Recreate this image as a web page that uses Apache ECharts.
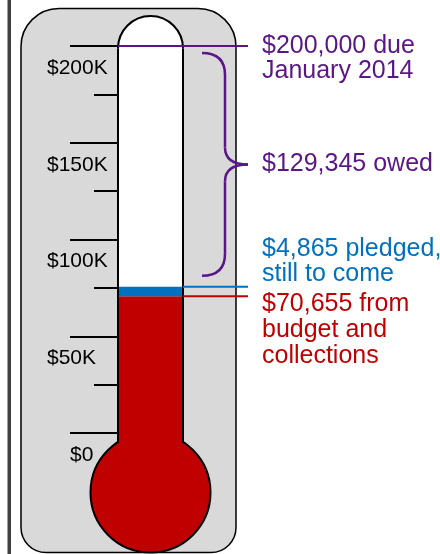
<!DOCTYPE html>
<html><head><meta charset="utf-8">
<script src="https://cdn.jsdelivr.net/npm/echarts@6/dist/echarts.min.js"></script>
<style>html,body{margin:0;padding:0;background:#fff}#c{width:440px;height:554px}</style>
</head><body><div id="c"></div>
<script>
// ---- data ----
const categories = ['Fund'];
const budgetCollected = [70655];
const pledgedToCome = [4865];
const goalAmount = [200000];
const owedAmount = [129345];
const goalLabel = ['$200,000 due', 'January 2014'];
const owedLabel = ['$129,345 owed'];
const pledgedLabel = ['$4,865 pledged,', 'still to come'];
const budgetLabel = ['$70,655 from', 'budget and', 'collections'];

// ---- style ----
const RED = '#c00000', BLUE = '#0070c0', PURPLE = '#5a1686', GRAY = '#d9d9d9';
const FONT = '"Liberation Sans", Arial, sans-serif';
const TUBE_L = 118, TUBE_W = 65, TUBE_R = TUBE_L + TUBE_W;

const chart = echarts.init(document.getElementById('c'), null, {renderer: 'canvas'});
chart.setOption({
  animation: false,
  grid: {left: TUBE_L, right: 440 - TUBE_R, top: 46, bottom: 121},
  xAxis: {type: 'category', data: categories, show: false},
  yAxis: {
    type: 'value', min: 0, max: goalAmount[0], interval: 50000,
    axisLine: {show: false},
    splitLine: {show: false}, minorSplitLine: {show: false},
    axisTick: {show: true, length: 48, lineStyle: {color: '#000', width: 2}},
    minorTick: {show: true, splitNumber: 2, length: 24, lineStyle: {color: '#000', width: 2}},
    axisLabel: {
      showMinLabel: true, showMaxLabel: true,
      align: 'left', margin: 71, padding: [44, 0, 0, 0],
      fontFamily: FONT, fontSize: 21, color: '#000',
      formatter: v => v === 0 ? '{z|$0}' : '$' + (v / 1000) + 'K',
      rich: {z: {padding: [0, 0, 0, 23], fontFamily: FONT, fontSize: 21, color: '#000'}}
    }
  },
  series: [
    {type: 'bar', stack: 'fund', data: budgetCollected, barWidth: '100%', itemStyle: {color: RED}, z: 2},
    {type: 'bar', stack: 'fund', data: pledgedToCome, barWidth: '100%', itemStyle: {color: BLUE}, z: 2}
  ]
});

const yOf = v => chart.convertToPixel({yAxisIndex: 0}, v);
const yGoal = yOf(goalAmount[0]);
const yBlue = yOf(budgetCollected[0] + pledgedToCome[0]);
const yRed = yOf(budgetCollected[0]);
const yZero = yOf(0);

const cx = TUBE_L + TUBE_W / 2;
const tubeR = TUBE_W / 2;
const arcCy = 48.5;
const bulbCy = 492.5, bulbR = 60;
const joinY = bulbCy - Math.sqrt(bulbR * bulbR - tubeR * tubeR);

const braceTop = yGoal + 7, braceBot = yBlue - 11, braceMid = (braceTop + braceBot) / 2;
const bx0 = 202, bx1 = 225, bxP = 248;
const lineEnd = 248, textX = 262;
const braceStyle = {stroke: PURPLE, lineWidth: 2.5, fill: null};

const els = [
  {type: 'rect', z: -10, shape: {x: 7.5, y: 0, width: 3.5, height: 554}, style: {fill: '#3f3f3f'}},
  {type: 'rect', z: -9, shape: {x: 21, y: 8.5, width: 215, height: 544, r: [38, 38, 25, 25]},
   style: {fill: GRAY, stroke: '#000', lineWidth: 1.5}},
  // tube white interior
  {type: 'rect', z: -8, shape: {x: TUBE_L, y: arcCy, width: TUBE_W, height: joinY - arcCy}, style: {fill: '#fff'}},
  {type: 'circle', z: -8, shape: {cx: cx, cy: arcCy, r: tubeR}, style: {fill: '#fff'}},
  // bulb
  {type: 'circle', z: 5, shape: {cx: cx, cy: bulbCy, r: bulbR}, style: {fill: RED, stroke: '#000', lineWidth: 2}},
  {type: 'rect', z: 6, shape: {x: TUBE_L, y: yZero - 4, width: TUBE_W, height: joinY - yZero + 16}, style: {fill: RED}},
  // tube outline
  {type: 'line', z: 7, shape: {x1: TUBE_L, y1: joinY + 1, x2: TUBE_L, y2: arcCy}, style: {stroke: '#000', lineWidth: 2}},
  {type: 'line', z: 7, shape: {x1: TUBE_R, y1: joinY + 1, x2: TUBE_R, y2: arcCy}, style: {stroke: '#000', lineWidth: 2}},
  {type: 'arc', z: 7, shape: {cx: cx, cy: arcCy, r: tubeR, startAngle: Math.PI, endAngle: 2 * Math.PI, clockwise: true},
   style: {stroke: '#000', lineWidth: 2, fill: null}},
  // annotation lines
  {type: 'line', z: 8, shape: {x1: TUBE_L, y1: yGoal, x2: lineEnd, y2: yGoal}, style: {stroke: PURPLE, lineWidth: 2}},
  {type: 'line', z: 8, shape: {x1: TUBE_R, y1: yBlue, x2: lineEnd, y2: yBlue}, style: {stroke: BLUE, lineWidth: 2}},
  {type: 'line', z: 8, shape: {x1: TUBE_R, y1: yRed, x2: lineEnd, y2: yRed}, style: {stroke: RED, lineWidth: 2}},
  // brace
  {type: 'bezierCurve', z: 8, shape: {x1: bx0, y1: braceTop, cpx1: bx1, cpy1: braceTop, x2: bx1, y2: braceTop + 22}, style: braceStyle},
  {type: 'line', z: 8, shape: {x1: bx1, y1: braceTop + 22, x2: bx1, y2: braceMid - 17}, style: braceStyle},
  {type: 'bezierCurve', z: 8, shape: {x1: bx1, y1: braceMid - 17, cpx1: bx1, cpy1: braceMid, x2: bxP, y2: braceMid}, style: braceStyle},
  {type: 'bezierCurve', z: 8, shape: {x1: bxP, y1: braceMid, cpx1: bx1, cpy1: braceMid, x2: bx1, y2: braceMid + 17}, style: braceStyle},
  {type: 'line', z: 8, shape: {x1: bx1, y1: braceMid + 17, x2: bx1, y2: braceBot - 22}, style: braceStyle},
  {type: 'bezierCurve', z: 8, shape: {x1: bx1, y1: braceBot - 22, cpx1: bx1, cpy1: braceBot, x2: bx0, y2: braceBot}, style: braceStyle},
  // texts
  {type: 'text', z: 9, x: textX, y: yGoal - 12.5, style: {text: goalLabel.join('\n'), font: '25px ' + FONT, fill: PURPLE, align: 'left', verticalAlign: 'top', lineHeight: 25}},
  {type: 'text', z: 9, x: textX, y: braceMid, style: {text: owedLabel.join('\n'), font: '25px ' + FONT, fill: PURPLE, align: 'left', verticalAlign: 'middle', lineHeight: 25}},
  {type: 'text', z: 9, x: textX, y: yBlue, style: {text: pledgedLabel.join('\n'), font: '25px ' + FONT, fill: BLUE, align: 'left', verticalAlign: 'bottom', lineHeight: 25}},
  {type: 'text', z: 9, x: textX, y: yRed - 5, style: {text: budgetLabel.join('\n'), font: '25px ' + FONT, fill: RED, align: 'left', verticalAlign: 'top', lineHeight: 26}}
];
chart.setOption({graphic: {elements: els.map(e => Object.assign({silent: true}, e))}});
</script></body></html>
